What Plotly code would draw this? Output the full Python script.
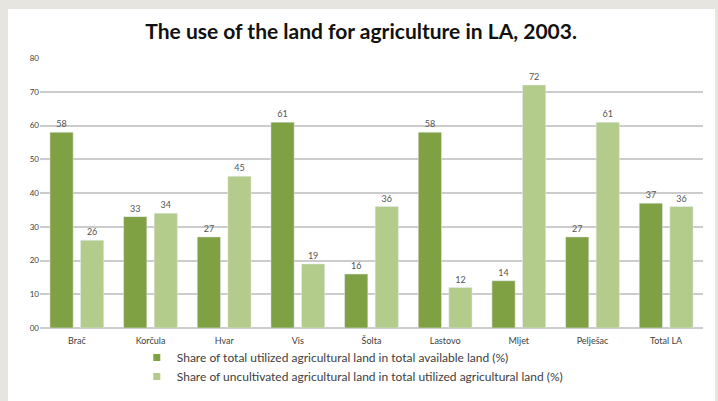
import plotly.graph_objects as go

categories = ['Brač', 'Korčula', 'Hvar', 'Vis', 'Šolta', 'Lastovo', 'Mljet', 'Pelješac', 'Total LA']
utilized = [58, 33, 27, 61, 16, 58, 14, 27, 37]
uncultivated = [26, 34, 45, 19, 36, 12, 72, 61, 36]
y_ticks = [0, 10, 20, 30, 40, 50, 60, 70, 80]
y_tick_text = ['00', '10', '20', '30', '40', '50', '60', '70', '80']

name_1 = 'Share of total utilized agricultural land in total available land (%)'
name_2 = 'Share of uncultivated agricultural land in total utilized agricultural land (%)'
dark = '#80a044'
light = '#b3cc8b'

font = 'Lato, Open Sans, sans-serif'

fig = go.Figure()
fig.add_trace(go.Bar(
    x=categories, y=utilized, name=name_1, showlegend=False,
    marker_color=dark,
    text=utilized, textposition='outside', cliponaxis=False,
    textfont=dict(size=9, color='#555555', family=font),
))
fig.add_trace(go.Bar(
    x=categories, y=uncultivated, name=name_2, showlegend=False,
    marker_color=light,
    text=uncultivated, textposition='outside', cliponaxis=False,
    textfont=dict(size=9, color='#555555', family=font),
))
# small square legend keys
for name, col in [(name_1, dark), (name_2, light)]:
    fig.add_trace(go.Scatter(
        x=[None], y=[None], mode='markers', name=name,
        marker=dict(symbol='square', size=7, color=col),
    ))

fig.update_layout(
    width=718, height=401,
    margin=dict(l=40, r=15, t=58, b=73, autoexpand=False),
    paper_bgcolor='#e7e5df',
    plot_bgcolor='white',
    barmode='group',
    bargap=0.17,
    bargroupgap=0.24,
    title=dict(
        text='<b>The use of the land for agriculture in LA, 2003.</b>',
        x=0.503, xanchor='center', y=0.92, yanchor='middle',
        font=dict(family=font, size=21, color='#111111'),
    ),
    font=dict(family=font, size=9, color='#404040'),
    showlegend=True,
    legend=dict(
        orientation='v', x=0.146, xanchor='left', y=-15 / 270, yanchor='top',
        font=dict(size=12, color='#404040'),
        bgcolor='rgba(0,0,0,0)',
        itemwidth=30,
    ),
    shapes=[dict(
        type='rect', xref='paper', yref='paper', layer='below',
        x0=-32 / 663, x1=(715 - 40) / 663,
        y0=-73 / 270, y1=(401 - 9 - 73) / 270,
        fillcolor='white', line=dict(width=0),
    )],
)
fig.update_xaxes(
    range=[-0.5, 8.5], showgrid=False, showline=False,
    ticks='', ticklabelstandoff=6, tickfont=dict(size=9, color='#404040'),
)
fig.update_yaxes(
    range=[0, 80], tickvals=y_ticks, ticktext=y_tick_text,
    showgrid=True, gridcolor='#cccccc', gridwidth=1.5,
    zeroline=True, zerolinecolor='#cccccc', zerolinewidth=1.5,
    ticks='', tickfont=dict(size=8, color='#404040'),
)

fig.write_html('out.html', config={'displayModeBar': False},
               post_script="document.body.style.margin='0';")
